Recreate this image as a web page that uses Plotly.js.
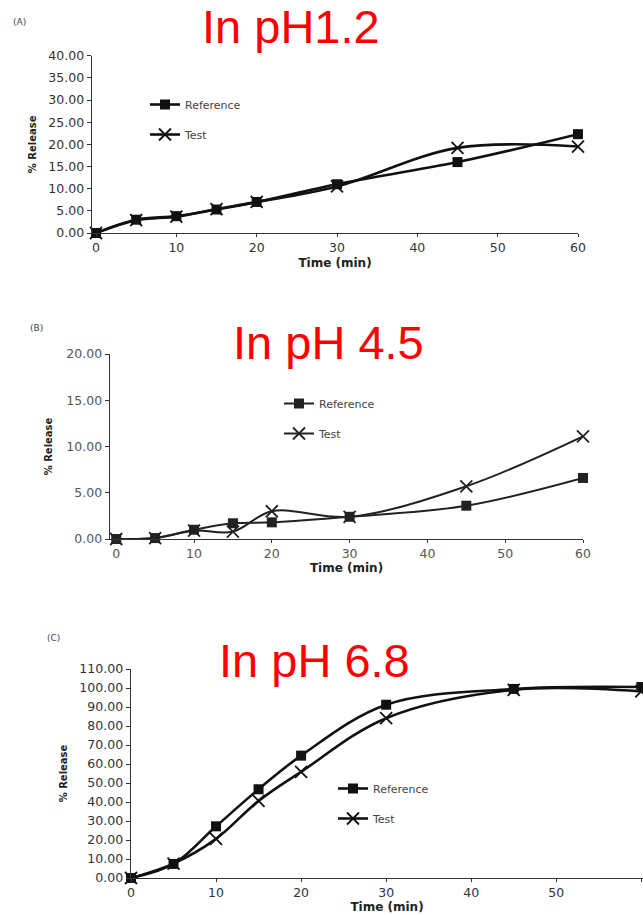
<!DOCTYPE html>
<html>
<head>
<meta charset="utf-8">
<script src="https://cdn.plot.ly/plotly-3.0.1.min.js"></script>
<style>html,body{margin:0;padding:0;background:#fff;}#chart{width:643px;height:915px;}</style>
</head>
<body>
<div id="chart"></div>
<script>
// ---- data ----
const time = [0, 5, 10, 15, 20, 30, 45, 60];
const refA  = [0, 3.0, 3.8, 5.3, 7.0, 11.0, 16.0, 22.3];
const testA = [0, 2.9, 3.7, 5.4, 7.0, 10.5, 19.2, 19.5];
const refB  = [0, 0.1, 1.0, 1.7, 1.8, 2.4, 3.6, 6.6];
const testB = [0, 0.1, 0.9, 0.8, 3.0, 2.4, 5.7, 11.1];
const refC  = [0, 7.4, 27.2, 46.7, 64.4, 91.2, 99.5, 100.5];
const testC = [0, 7.6, 20.6, 40.6, 55.9, 84.1, 99.0, 98.2];
const seriesNames = ["Reference", "Test"];
const panelTitles = ["In pH1.2", "In pH 4.5", "In pH 6.8"];
const panelLabels = ["(A)", "(B)", "(C)"];
const xTitle = "Time (min)";
const yTitle = "% Release";

const W = 643, H = 915;
const px = v => v / W;
const py = v => 1 - v / H;

function pair(ref, test, xa, ya, lg, lw, col) {
  return [
    {x: time, y: ref, xaxis: xa, yaxis: ya, legend: lg, legendgroup: lg + 'r', name: seriesNames[0],
     mode: 'lines+markers', cliponaxis: false,
     line: {shape: 'spline', smoothing: 1, color: col, width: lw},
     marker: {symbol: 'square', size: 10, color: col}},
    {x: time, y: test, xaxis: xa, yaxis: ya, legend: lg, legendgroup: lg + 't', name: seriesNames[1],
     mode: 'lines+markers', cliponaxis: false,
     line: {shape: 'spline', smoothing: 1, color: col, width: lw},
     marker: {symbol: 'x-thin-open', size: 12, line: {color: col, width: 1.8}}}
  ];
}

const data = [].concat(
  pair(refA, testA, 'x', 'y', 'legend', 2.6, '#111'),
  pair(refB, testB, 'x2', 'y2', 'legend2', 2.0, '#222'),
  pair(refC, testC, 'x3', 'y3', 'legend3', 2.6, '#111')
);

const tickF = c => ({family: 'DejaVu Sans', size: 12.5, color: c});
function xax(dom, anchor, range, c, standoff) {
  return {domain: dom, anchor: anchor, range: range, dtick: 10, tick0: 0,
    showline: true, linecolor: '#333', linewidth: 1.4, ticks: 'outside', ticklen: 3, tickcolor: '#333',
    showgrid: false, zeroline: false, tickfont: tickF(c),
    title: {text: xTitle, font: {family: 'DejaVu Sans', size: 12, color: '#222', weight: 'bold'}, standoff: standoff}};
}
function yax(dom, anchor, range, dtick, c, standoff) {
  return {domain: dom, anchor: anchor, range: range, dtick: dtick, tick0: 0, tickformat: '.2f',
    showline: true, linecolor: '#333', linewidth: 1.4, ticks: 'outside', ticklen: 4, tickcolor: '#333',
    showgrid: false, zeroline: false, tickfont: tickF(c),
    title: {text: yTitle, font: {family: 'DejaVu Sans', size: 10, color: '#222', weight: 'bold'}, standoff: standoff}};
}
function leg(x, ytop) {
  return {x: px(x), y: py(ytop), xanchor: 'left', yanchor: 'top', bgcolor: 'rgba(0,0,0,0)',
    font: {family: 'DejaVu Sans', size: 11, color: '#444'}, tracegroupgap: 11, itemwidth: 30};
}

const layout = {
  width: W, height: H, margin: {l: 0, r: 0, t: 0, b: 0},
  paper_bgcolor: '#fff', plot_bgcolor: 'rgba(0,0,0,0)', showlegend: true,
  xaxis:  xax([px(92), px(578)], 'y', [-0.5, 60], '#333', 4),
  yaxis:  yax([py(233), py(55.7)], 'x', [0, 40], 5, '#333', 9),
  xaxis2: xax([px(110), px(583)], 'y2', [-0.8, 60], '#555', 2),
  yaxis2: yax([py(539), py(354)], 'x2', [0, 20], 5, '#555', 12),
  xaxis3: xax([px(131), px(643)], 'y3', [0, 60.2], '#333', 2),
  yaxis3: yax([py(878), py(669)], 'x3', [0, 110], 10, '#333', 10),
  legend: leg(145, 90),
  legend2: leg(279, 389),
  legend3: leg(333, 774),
  annotations: [
    {text: panelTitles[0], x: px(291), y: py(26), xref: 'paper', yref: 'paper', showarrow: false,
     xanchor: 'center', yanchor: 'middle', font: {family: 'Liberation Sans', size: 47, color: '#ff0000'}},
    {text: panelTitles[1], x: px(328), y: py(343), xref: 'paper', yref: 'paper', showarrow: false,
     xanchor: 'center', yanchor: 'middle', font: {family: 'Liberation Sans', size: 47, color: '#ff0000'}},
    {text: panelTitles[2], x: px(314), y: py(660), xref: 'paper', yref: 'paper', showarrow: false,
     xanchor: 'center', yanchor: 'middle', font: {family: 'Liberation Sans', size: 47, color: '#ff0000'}},
    {text: panelLabels[0], x: px(19), y: py(22), xref: 'paper', yref: 'paper', showarrow: false,
     xanchor: 'center', yanchor: 'middle', font: {family: 'DejaVu Sans', size: 9, color: '#444'}},
    {text: panelLabels[1], x: px(36), y: py(328), xref: 'paper', yref: 'paper', showarrow: false,
     xanchor: 'center', yanchor: 'middle', font: {family: 'DejaVu Sans', size: 9, color: '#444'}},
    {text: panelLabels[2], x: px(53), y: py(638), xref: 'paper', yref: 'paper', showarrow: false,
     xanchor: 'center', yanchor: 'middle', font: {family: 'DejaVu Sans', size: 9, color: '#444'}}
  ]
};

Plotly.newPlot('chart', data, layout, {displayModeBar: false, staticPlot: true});
</script>
</body>
</html>
